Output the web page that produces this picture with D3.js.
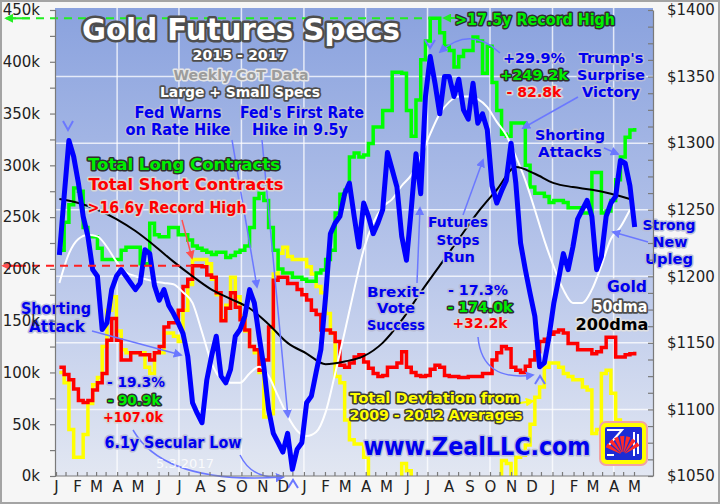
<!DOCTYPE html>
<meta charset="utf-8">
<script src="https://d3js.org/d3.v7.min.js"></script>
<style>
  body { margin: 0; background: #fff; }
  text { font-family: "DejaVu Sans", Verdana, sans-serif; }
  .axis text { font-size: 15px; fill: #222; }
  .axis path, .axis line { stroke: #7a7a7a; stroke-width: 1.2px; }
  .note { font-weight: bold; paint-order: stroke; stroke-linejoin: round; }
</style>
<svg id="chart" width="720" height="504"></svg>
<script>
// weekly CoT data (thousands of contracts), one value per Tuesday from 2015-01-06
const longK = [218,245,262,278,275,240,231,231,220,209,
  209,209,209,218,221,221,221,205,205,244,
  233,231,231,240,240,233,233,228,222,220,
  218,216,214,216,216,211,213,216,218,222,
  240,268,273,266,240,218,200,196,196,192,
  192,190,188,188,196,199,209,218,254,272,
  276,308,312,308,310,321,337,337,353,353,
  390,390,389,353,328,363,402,420,442,442,
  428,415,411,395,405,411,411,424,420,389,
  415,380,353,330,328,341,341,341,300,279,
  273,273,270,264,266,266,264,259,259,259,
  254,254,293,293,254,256,266,286,308,327,
  334,336];
const shortK = [105,98,93,84,73,71,73,83,90,99,
  131,152,131,112,112,119,119,117,117,112,
  119,125,144,148,148,160,183,190,203,203,
  202,194,192,177,150,162,177,163,151,141,
  125,122,102,112,144,189,192,192,186,186,
  180,175,170,160,156,141,141,138,130,107,
  105,109,115,117,110,104,99,96,97,105,
  105,109,120,105,100,97,96,97,103,107,
  105,97,96,96,95,95,96,96,96,99,
  99,112,119,125,123,105,102,100,106,112,
  120,130,132,137,139,141,138,128,128,122,
  122,122,118,120,124,134,134,115,115,117,
  118,120];
const deviationK = [100,90,45,18,18,40,70,88,95,125,
  160,173,140,122,119,119,119,119,105,99,
  119,119,138,138,135,130,160,185,209,209,
  209,205,190,175,151,165,192,173,154,140,
  125,119,100,57,60,195,215,221,212,209,
  209,209,202,195,183,177,157,138,96,90,
  54,35,31,31,18,-10,-25,-25,-25,-25,
  -20,-5,12,5,-15,-20,-25,-25,-25,-25,
  -25,-25,-25,-25,-25,-25,-25,-25,-20,-10,
  -20,-20,-5,15,12,-5,18,20,30,50,
  76,86,105,109,109,105,99,96,93,93,
  86,83,41,45,99,102,80,54,40,25,
  15,10];
// gold ($/oz) on the same weeks
const goldPrice = [1216,1260,1302,1290,1270,1245,1230,1205,1200,1160,
  1165,1190,1200,1205,1200,1195,1190,1195,1220,1217,
  1193,1182,1190,1178,1172,1165,1157,1140,1105,1097,
  1090,1122,1140,1155,1125,1120,1130,1155,1160,1170,
  1190,1180,1155,1132,1100,1082,1075,1068,1082,1055,
  1070,1075,1105,1110,1128,1145,1185,1232,1240,1245,
  1262,1270,1245,1222,1255,1245,1232,1240,1250,1293,
  1280,1267,1230,1212,1250,1292,1262,1335,1365,1345,
  1322,1350,1350,1335,1348,1325,1318,1345,1315,1322,
  1310,1268,1255,1264,1272,1300,1270,1225,1205,1187,
  1170,1132,1135,1155,1180,1198,1217,1205,1222,1243,
  1250,1257,1245,1205,1215,1245,1255,1260,1287,1285,
  1268,1237];
// 50dma every 2nd week, 200dma every 4th week
const ma50 = [1195,1217,1228,1231,1230,1222,1211,1203,1200,1198,
  1196,1195,1194,1188,1180,1158,1135,1123,1120,1120,
  1127,1132,1125,1110,1095,1084,1080,1083,1098,1127,
  1158,1190,1220,1240,1252,1258,1268,1276,1290,1307,
  1322,1331,1335,1335,1333,1327,1316,1306,1290,1272,
  1250,1227,1207,1190,1180,1180,1190,1208,1228,1237,
  1250];
const ma200 = [1258,1255,1250,1243,1234,1223,1211,1200,1190,1183,
  1176,1164,1150,1142,1134,1136,1140,1150,1167,1188,
  1208,1228,1248,1265,1282,1277,1270,1267,1265,1262,
  1258];

const monthLetters = ["J","F","M","A","M","J","J","A","S","O","N","D"];
const leftTicks = d3.range(0, 451, 25);
const rightTicks = d3.range(1050, 1401, 12.5);

const weeks = d3.timeTuesday.range(new Date(2015, 0, 6), new Date(2017, 4, 3));
const weeks2 = weeks.filter((d, i) => i % 2 === 0);
const weeks4 = weeks.filter((d, i) => i % 4 === 0);

const svg = d3.select("#chart");
const L = 55, R = 653, T = 8, B = 476;

const x = d3.scaleTime().domain([new Date(2015, 0, 1), new Date(2017, 4, 1)]).range([56, 634]);
const yL = d3.scaleLinear().domain([0, 450]).range([476, 10]);
const yR = d3.scaleLinear().domain([1050, 1400]).range([476, 10]);

const defs = svg.append("defs");
const grad = defs.append("linearGradient").attr("id", "bg").attr("x1", 0).attr("y1", 0).attr("x2", 0).attr("y2", 1);
grad.append("stop").attr("offset", "0%").attr("stop-color", "#8aa2de");
grad.append("stop").attr("offset", "55%").attr("stop-color", "#b8c6ea");
grad.append("stop").attr("offset", "100%").attr("stop-color", "#e2e7f2");
defs.append("clipPath").attr("id", "clip").append("rect")
  .attr("x", L).attr("y", T).attr("width", R - L).attr("height", B - T);

function marker(id, color) {
  defs.append("marker").attr("id", id).attr("viewBox", "0 0 10 10")
    .attr("refX", 8).attr("refY", 5).attr("markerWidth", 9).attr("markerHeight", 9)
    .attr("markerUnits", "userSpaceOnUse").attr("orient", "auto")
    .append("path").attr("d", "M0,0 L10,5 L0,10 Z").attr("fill", color);
}
marker("ab", "#6b78ff");
marker("ar", "#ff5050");
marker("ag", "#22ee22");
marker("ay", "#ffff00");

// page + plot background
svg.append("rect").attr("width", 720).attr("height", 504).attr("fill", "#f6f6f6");
svg.append("rect").attr("x", 1).attr("y", 1).attr("width", 718).attr("height", 502)
  .attr("fill", "none").attr("stroke", "#a4a4a4").attr("stroke-width", 2);
svg.append("rect").attr("x", L).attr("y", T).attr("width", R - L).attr("height", B - T).attr("fill", "url(#bg)");

// grid
const grid = svg.append("g").attr("stroke", "#fff").attr("stroke-opacity", 0.75).attr("stroke-width", 1.5);
d3.timeMonth.every(3).range(new Date(2015, 2, 2), new Date(2017, 4, 1)).forEach(d => {
  grid.append("line").attr("x1", x(d)).attr("x2", x(d)).attr("y1", T).attr("y2", B);
});
d3.range(1100, 1351, 50).forEach(v => {
  grid.append("line").attr("x1", L).attr("x2", R).attr("y1", yR(v)).attr("y2", yR(v));
});

const plot = svg.append("g").attr("clip-path", "url(#clip)");
const step = d3.line().x((d, i) => x(weeks[i])).y(d => yL(d)).curve(d3.curveStepAfter);

plot.append("path").datum(deviationK).attr("d", step)
  .attr("fill", "none").attr("stroke", "#ffff00").attr("stroke-width", 3.5);
plot.append("path").datum(shortK).attr("d", step)
  .attr("fill", "none").attr("stroke", "#ff0000").attr("stroke-width", 3.5);
plot.append("path").datum(longK).attr("d", step)
  .attr("fill", "none").attr("stroke", "#00ff00").attr("stroke-width", 3.5);

const l50 = d3.line().x((d, i) => x(weeks2[i])).y(d => yR(d)).curve(d3.curveMonotoneX);
const l200 = d3.line().x((d, i) => x(weeks4[i])).y(d => yR(d)).curve(d3.curveMonotoneX);
plot.append("path").datum(ma50).attr("d", l50)
  .attr("fill", "none").attr("stroke", "#fff").attr("stroke-width", 2);
plot.append("path").datum(ma200).attr("d", l200)
  .attr("fill", "none").attr("stroke", "#000").attr("stroke-width", 2);
plot.append("path").datum(goldPrice)
  .attr("d", d3.line().x((d, i) => x(weeks[i])).y(d => yR(d)))
  .attr("fill", "none").attr("stroke", "#0000ff").attr("stroke-width", 5)
  .attr("stroke-linejoin", "round");

// record-high dashed markers
const longMax = d3.max(longK), shortMax = d3.max(shortK);
svg.append("line").attr("x1", 8).attr("x2", x(weeks[longK.indexOf(longMax)]))
  .attr("y1", yL(longMax)).attr("y2", yL(longMax))
  .attr("stroke", "#22ee22").attr("stroke-width", 2).attr("stroke-dasharray", "8,6");
svg.append("line").attr("x1", 30).attr("x2", 6).attr("y1", yL(longMax)).attr("y2", yL(longMax))
  .attr("stroke", "#22ee22").attr("stroke-width", 2).attr("marker-end", "url(#ag)");
svg.append("line").attr("x1", 4).attr("x2", x(weeks[shortK.indexOf(shortMax)]))
  .attr("y1", yL(shortMax)).attr("y2", yL(shortMax))
  .attr("stroke", "#ff2020").attr("stroke-width", 2).attr("stroke-dasharray", "8,6");
svg.append("line").attr("x1", 22).attr("x2", 3).attr("y1", yL(shortMax)).attr("y2", yL(shortMax))
  .attr("stroke", "#ff2020").attr("stroke-width", 2).attr("marker-end", "url(#ar)");

// annotation arrows
const arrows = [
  ["M232,140 L257,287", "ab"], ["M262,140 L288,417", "ab"], ["M92,331 L181,355", "ab"],
  ["M182,220 L192,258", "ar"], ["M133,430 Q165,485 283,477", "ab"], ["M240,455 Q252,480 283,477", "ab"],
  ["M500,53 Q470,25 440,52", "ab"], ["M578,97 L523,128", "ab"], ["M463,215 L483,160", "ab"],
  ["M417,283 L420,208", "ab"], ["M478,337 Q482,382 533,375", "ab"], ["M604,148 L618,154", "ab"],
  ["M648,242 L613,232", "ab"], ["M462,18 L444,18", "ag"], ["M520,403 L533,401", "ay"]
];
svg.append("g").selectAll("path").data(arrows).join("path")
  .attr("d", d => d[0]).attr("fill", "none")
  .attr("stroke", d => d[1] === "ar" ? "#ff5050" : d[1] === "ag" ? "#22ee22" : d[1] === "ay" ? "#ffff00" : "#6b78ff")
  .attr("stroke-width", d => d[1] === "ag" || d[1] === "ay" ? 2 : 1.5)
  .attr("marker-end", d => `url(#${d[1]})`);
const chevrons = ["M63,121 L68,130 L73,121", "M425,40 L430,48 L435,40", "M288,488 L293,480 L298,488", "M535,384 L540,376 L545,384"];
svg.append("g").selectAll("path").data(chevrons).join("path")
  .attr("d", d => d).attr("fill", "none").attr("stroke", "#6b78ff").attr("stroke-width", 2);

// text
const sty = {
  title: ["#fff", "#4e4e4e", 5], white: ["#fff", "#4e4e4e", 3.5], gray: ["#9c9c9c", "#e6e6e6", 3],
  blue: ["#0000f0", "#b9bdd6", 3], green: ["#00f000", "#2e2e2e", 3], red: ["#ff0000", "#d6d6d6", 3],
  yellow: ["#ffff00", "#3c3c3c", 3], black: ["#000", "#e0e0e0", 3]
};
const notes = [
  ["Gold Futures Specs", 241, 40, 318, 30, "title"],
  ["2015 - 2017", 240, 60, 95, 14, "white"],
  ["Weekly CoT Data", 241, 80, 135, 13.5, "gray"],
  ["Large + Small Specs", 240, 97, 160, 13.5, "white"],
  ["Fed Warns", 178, 118, 87, 15, "blue"],
  ["on Rate Hike", 178, 135, 105, 15, "blue"],
  ["Fed's First Rate", 302, 118, 124, 15, "blue"],
  ["Hike in 9.5y", 300, 135, 96, 15, "blue"],
  ["Total Long Contracts", 184, 170, 192, 16, "green"],
  ["Total Short Contracts", 186, 190, 195, 16, "red"],
  [">16.6y Record High", 167, 213, 159, 15, "red"],
  ["Shorting", 56, 314, 70, 15, "blue"],
  ["Attack", 57, 332, 56, 15, "blue"],
  ["- 19.3%", 136, 387, 58, 14, "blue"],
  ["- 90.9k", 134, 405, 53, 14, "green"],
  ["+107.0k", 133, 422, 60, 14, "red"],
  ["6.1y Secular Low", 173, 448, 137, 15, "blue"],
  ["Brexit-", 396, 297, 58, 14, "blue"],
  ["Vote", 396, 313, 38, 14, "blue"],
  ["Success", 396, 330, 58, 14, "blue"],
  ["Futures", 458, 227, 60, 14, "blue"],
  ["Stops", 458, 245, 43, 14, "blue"],
  ["Run", 459, 262, 32, 14, "blue"],
  ["- 17.3%", 478, 295, 60, 14, "blue"],
  ["- 174.0k", 480, 312, 65, 14, "green"],
  ["+32.2k", 480, 328, 55, 14, "red"],
  [">17.5y Record High", 535, 25, 160, 15, "green"],
  ["+29.9%", 534, 63, 62, 14, "blue"],
  ["+249.2k", 534, 80, 68, 14, "green"],
  ["- 82.8k", 534, 97, 55, 14, "red"],
  ["Trump's", 611, 63, 65, 14, "blue"],
  ["Surprise", 611, 80, 68, 14, "blue"],
  ["Victory", 611, 97, 58, 14, "blue"],
  ["Shorting", 570, 140, 70, 14, "blue"],
  ["Attacks", 570, 157, 64, 14, "blue"],
  ["Strong", 669, 230, 53, 14, "blue"],
  ["New", 670, 247, 35, 14, "blue"],
  ["Upleg", 669, 264, 48, 14, "blue"],
  ["Gold", 627, 292, 40, 15, "blue"],
  ["50dma", 620, 312, 55, 15, "white"],
  ["200dma", 612, 330, 73, 15, "black"],
  ["Total Deviation from", 435, 403, 170, 14, "yellow"],
  ["2009 - 2012 Averages", 436, 420, 173, 14, "yellow"],
  ["www.ZealLLC.com", 477, 455, 227, 25, "blue"]
];
svg.append("g").selectAll("text").data(notes).join("text")
  .attr("class", "note")
  .attr("x", d => d[1]).attr("y", d => d[2])
  .attr("text-anchor", "middle")
  .attr("textLength", d => d[3]).attr("lengthAdjust", "spacingAndGlyphs")
  .attr("font-size", d => d[4])
  .attr("fill", d => sty[d[5]][0]).attr("stroke", d => sty[d[5]][1]).attr("stroke-width", d => sty[d[5]][2])
  .text(d => d[0]);
svg.append("text").attr("x", 185).attr("y", 468).attr("text-anchor", "middle")
  .attr("font-size", 13).attr("fill", "#fff").attr("fill-opacity", 0.85).text("5.3.2017");

// logo
const logo = svg.append("g").attr("transform", "translate(600,422)");
logo.append("rect").attr("width", 47).attr("height", 43).attr("rx", 6)
  .attr("fill", "#ffff00").attr("stroke", "#f2a2a2").attr("stroke-width", 2);
logo.append("rect").attr("x", 5).attr("y", 5).attr("width", 37).attr("height", 33).attr("rx", 2).attr("fill", "#1c2cd6");
logo.append("path").attr("d", "M7,8 H22 L8,24 M7,33 H14 M34,10 V34 M38,12 V32")
  .attr("fill", "none").attr("stroke", "#fff").attr("stroke-width", 2);
const fan = d3.arc().innerRadius(3).outerRadius(19);
d3.range(7).forEach(i => {
  const a0 = (-66 + i * 19) * Math.PI / 180;
  logo.append("path").attr("transform", "translate(23,33)")
    .attr("d", fan({ startAngle: a0, endAngle: a0 + 13 * Math.PI / 180 })).attr("fill", "#ff2a2a");
});

// axes
svg.append("g").attr("class", "axis").attr("transform", `translate(${L},0)`)
  .call(d3.axisLeft(yL).tickValues(leftTicks).tickSize(5).tickPadding(10)
    .tickFormat(v => v % 50 === 0 ? v + "k" : ""));
svg.append("g").attr("class", "axis").attr("transform", `translate(${R},0)`)
  .call(d3.axisRight(yR).tickValues(rightTicks).tickSizeInner(-5).tickSizeOuter(0).tickPadding(14)
    .tickFormat(v => v % 50 === 0 ? "$" + v : ""));
const months = d3.timeMonth.range(new Date(2015, 0, 1), new Date(2017, 4, 2));
const mids = months.slice(0, -1).map(m => d3.timeDay.offset(m, 14));
const bottom = d3.axisBottom(x).tickValues(months.concat(mids)).tickSizeInner(-4).tickSizeOuter(0).tickPadding(5)
  .tickFormat(d => d.getDate() === 1 ? monthLetters[d.getMonth()] : "");
const bx = svg.append("g").attr("class", "axis").attr("transform", `translate(0,${B})`).call(bottom);
bx.select(".domain").attr("d", `M${L},0H${R}`);
</script>
